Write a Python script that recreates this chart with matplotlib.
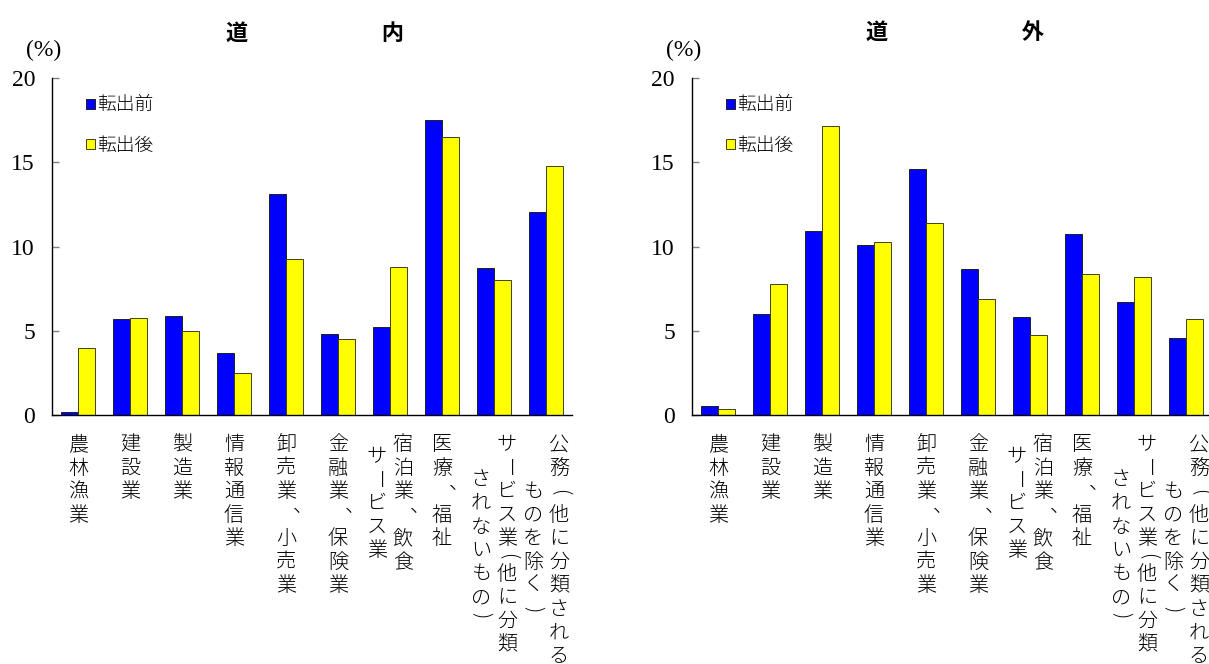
import matplotlib
matplotlib.use("Agg")
import matplotlib.pyplot as plt

plt.rcParams['font.family'] = ['Noto Sans CJK JP', 'DejaVu Sans']

# ---- data -------------------------------------------------------------
categories = [
    "農林漁業", "建設業", "製造業", "情報通信業", "卸売業、小売業",
    "金融業、保険業", "宿泊業、飲食サービス業", "医療、福祉",
    "サービス業(他に分類されないもの)", "公務（他に分類されるものを除く）",
]
# vertical label columns, read right to left
category_lines = [
    ["農林漁業"], ["建設業"], ["製造業"], ["情報通信業"], ["卸売業、小売業"],
    ["金融業、保険業"], ["宿泊業、飲食", "サービス業"], ["医療、福祉"],
    ["サービス業(他に分類", "されないもの)"], ["公務（他に分類される", "ものを除く）"],
]
series_names = ["転出前", "転出後"]

inside_before = [0.2, 5.68, 5.88, 3.70, 13.1, 4.79, 5.23, 17.5, 8.75, 12.04]
inside_after = [3.96, 5.74, 4.97, 2.48, 9.25, 4.50, 8.77, 16.53, 8.0, 14.77]
outside_before = [0.52, 5.99, 10.95, 10.08, 14.64, 8.65, 5.83, 10.77, 6.71, 4.60]
outside_after = [0.38, 7.80, 17.14, 10.30, 11.43, 6.87, 4.76, 8.39, 8.17, 5.71]

panel_titles = ["道　　　　　　内", "道　　　　　　外"]
y_ticks = [0, 5, 10, 15, 20]
unit_label = "(%)"

# ---- layout / style ---------------------------------------------------
W, H, DPI = 1209, 664, 100
BLUE, YELLOW = "#0000FF", "#FFFF00"
SERIF = "Liberation Serif"
LABEL_SIZE = 14.5
LABEL_WEIGHT = "light"
CHAR_PITCH = 23.5      # px between stacked characters
COL_PITCH = 26.0       # px between label columns
LABEL_TOP = 18.0       # px from the x axis to the first character cell
HALF_CHARS = set("()")
# brackets and the long-vowel mark are turned a quarter for vertical writing
TURNED = {"ー": "ー", "（": "(", "）": ")", "(": "(", ")": ")"}


def pt(v):
    return v * 72.0 / DPI


def vertical_label(ax, x, columns):
    lengths = [sum(0.5 if c in HALF_CHARS else 1.0 for c in col) for col in columns]
    longest = max(lengths)
    ncol = len(columns)
    for j, (col, length) in enumerate(zip(columns, lengths)):
        dx = ((ncol - 1) / 2.0 - j) * COL_PITCH
        pos = (longest - length) / 2.0
        for ch in col:
            h = 0.5 if ch in HALF_CHARS else 1.0
            cy = LABEL_TOP + (pos + h / 2.0) * CHAR_PITCH
            kw = dict(xy=(x, 0), xycoords=("data", "axes fraction"),
                      textcoords="offset points", fontsize=LABEL_SIZE,
                      fontweight=LABEL_WEIGHT, ha="center", va="center",
                      annotation_clip=False, color="black")
            if ch == "、":
                # ideographic comma sits in the upper right of its cell
                ax.annotate(ch, xytext=(pt(dx + 17), -pt(cy - 3)),
                            **{**kw, "va": "baseline"})
            elif ch in TURNED:
                ax.annotate(TURNED[ch], xytext=(pt(dx), -pt(cy)),
                            rotation=-90, **kw)
            else:
                ax.annotate(ch, xytext=(pt(dx), -pt(cy)), **kw)
            pos += h


fig = plt.figure(figsize=(W / DPI, H / DPI), dpi=DPI)
fig.patch.set_facecolor("white")

ax_bottom_px, ax_top_px, ax_w_px = 415.0, 78.3, 520.0
panels = [
    (52.0, inside_before, inside_after, panel_titles[0]),
    (692.0, outside_before, outside_after, panel_titles[1]),
]

xs = list(range(len(categories)))
bw = 1.0 / 3.0

for left_px, before, after, title in panels:
    ax = fig.add_axes([left_px / W, 1 - ax_bottom_px / H, ax_w_px / W,
                       (ax_bottom_px - ax_top_px) / H])
    b1 = ax.bar([x - bw / 2 for x in xs], before, width=bw, color=BLUE,
                edgecolor="#202020", linewidth=0.7, label=series_names[0])
    b2 = ax.bar([x + bw / 2 for x in xs], after, width=bw, color=YELLOW,
                edgecolor="#404020", linewidth=0.7, label=series_names[1])
    ax.set_xlim(-0.5, len(categories) - 0.5)
    ax.set_ylim(0, 20)
    ax.set_yticks(y_ticks)
    ax.set_yticklabels([str(v) for v in y_ticks], fontfamily=SERIF, fontsize=17)
    ax.tick_params(axis="y", direction="in", length=5, width=1, color="#808080",
                   pad=pt(17))
    ax.set_xticks([])
    for s in ("top", "right"):
        ax.spines[s].set_visible(False)
    for s in ("left", "bottom"):
        ax.spines[s].set_linewidth(1.0)
        ax.spines[s].set_color("black")

    for x, cols in zip(xs, category_lines):
        vertical_label(ax, x, cols)

    ax.legend(handles=[b1, b2], labels=series_names, loc="upper left",
              bbox_to_anchor=(0.066, 0.946), frameon=False,
              handlelength=0.45, handleheight=0.45, handletextpad=0.15,
              labelspacing=1.2, borderpad=0, borderaxespad=0,
              prop={"size": 13.5, "weight": LABEL_WEIGHT})

    cx = (left_px + ax_w_px / 2) / W
    fig.text(cx + 3 / W, 1 - 33 / H, title, ha="center", va="center",
             fontsize=16, fontweight="bold")
    fig.text((left_px - 8) / W, 1 - 50 / H, unit_label, ha="center",
             va="center", fontfamily=SERIF, fontsize=17)

fig.savefig("out.png", dpi=DPI, facecolor="white")
